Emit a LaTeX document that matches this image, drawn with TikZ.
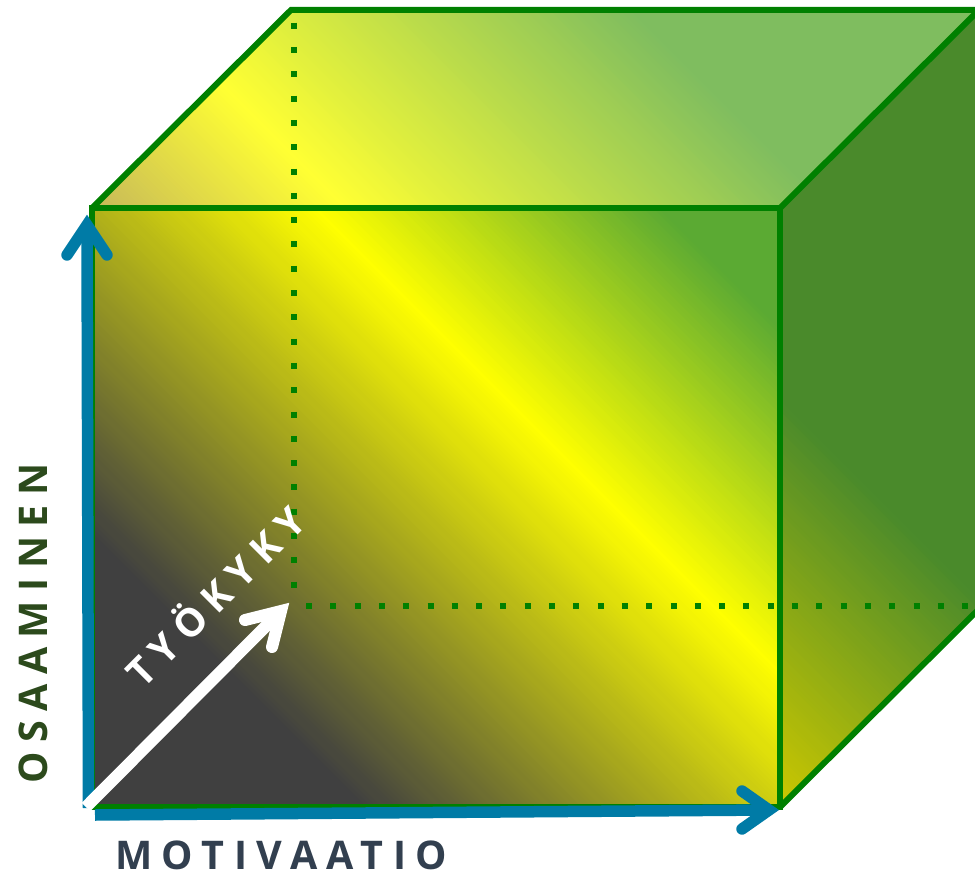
\documentclass[tikz,border=0pt]{standalone}
\usepackage{fontspec}
\setmainfont{Open Sans}
\newfontfamily\axisfont[LetterSpace=24]{Open Sans}
\newfontfamily\tkfont[LetterSpace=24]{Open Sans}
\definecolor{edgegreen}{RGB}{0,128,0}
\definecolor{axisblue}{RGB}{0,123,166}
\definecolor{fgray}{RGB}{64,64,64}
\definecolor{fyellow}{RGB}{255,255,0}
\definecolor{fgreen}{RGB}{91,170,51}
\definecolor{tcorner}{RGB}{198,184,90}
\definecolor{tyellow}{RGB}{255,255,51}
\definecolor{tgreen}{RGB}{127,189,95}
\definecolor{ryellow}{RGB}{204,200,0}
\definecolor{rgreen}{RGB}{74,138,43}
\definecolor{osaacol}{RGB}{44,74,28}
\definecolor{motivcol}{RGB}{50,63,79}
% diagonal colour band: s = x - y (pixel coordinates)
\newcommand\gband[5]{%
  \pgfmathsetmacro\gstep{(#2-#1)/#5}%
  \foreach \i in {1,...,#5}{%
    \pgfmathsetmacro\sa{#1+\gstep*(\i-1)}%
    \pgfmathsetmacro\sb{#1+\gstep*\i+1.0}%
    \pgfmathtruncatemacro\pc{100/#5*(\i-0.5)}%
    \fill[#4!\pc!#3] (\sa-1200,-1200) -- (\sa+1200,1200) -- (\sb+1200,1200) -- (\sb-1200,-1200) -- cycle;
  }}
\tikzset{
  cubeedge/.style={draw=edgegreen,line width=6pt,line join=miter},
  hidden/.style={draw=edgegreen,line width=6pt,dash pattern=on 6pt off 18.3pt},
  axisshaft/.style={draw=axisblue,line width=11.5pt},
  axishead/.style={draw=axisblue,line width=11.5pt,line cap=round,line join=miter,miter limit=10},
  whiteshaft/.style={draw=white,line width=12pt},
  whitehead/.style={draw=white,line width=12pt,line cap=round,line join=miter,miter limit=10},
  axislabel/.style={inner sep=0pt,font=\axisfont\bfseries\fontsize{39.5}{39.5}\selectfont},
}
\begin{document}
\begin{tikzpicture}[x=1pt,y=-1pt]
\useasboundingbox (0,0) rectangle (975,875);
\clip (0,0) rectangle (975,875);
% cube corners
\coordinate (ftl) at (92,208);
\coordinate (ftr) at (780,208);
\coordinate (fbr) at (780,807);
\coordinate (fbl) at (92,807);
\coordinate (btl) at (291,10);
\coordinate (btr) at (979,10);
\coordinate (bbr) at (979,609);
% front face
\begin{scope}
  \clip (ftl) -- (ftr) -- (fbr) -- (fbl) -- cycle;
  \gband{-800}{-445}{fgray}{fgray}{1}
  \gband{-445}{105}{fgray}{fyellow}{110}
  \gband{105}{450}{fyellow}{fgreen}{70}
  \gband{450}{700}{fgreen}{fgreen}{1}
\end{scope}
% top face
\begin{scope}
  \clip (ftl) -- (btl) -- (btr) -- (ftr) -- cycle;
  \gband{-200}{-116}{tcorner}{tcorner}{1}
  \gband{-116}{135}{tcorner}{tyellow}{50}
  \gband{135}{620}{tyellow}{tgreen}{97}
  \gband{620}{1100}{tgreen}{tgreen}{1}
\end{scope}
% right face
\begin{scope}
  \clip (ftr) -- (btr) -- (bbr) -- (fbr) -- cycle;
  \gband{-100}{-28}{ryellow}{ryellow}{1}
  \gband{-28}{380}{ryellow}{rgreen}{80}
  \gband{380}{1100}{rgreen}{rgreen}{1}
\end{scope}
% edges
\draw[cubeedge] (ftl) -- (ftr) -- (fbr) -- (fbl) -- cycle;
\draw[cubeedge] (ftl) -- (btl) -- (btr) -- (ftr);
\draw[cubeedge] (btr) -- (bbr) -- (fbr);
% hidden edges
\coordinate (hv0) at (293.7,22.7);
\coordinate (hv1) at (293.7,605.7);
\coordinate (hh0) at (306,605.7);
\coordinate (hh1) at (980,605.7);
\draw[hidden] (hv0) -- (hv1);
\draw[hidden] (hh0) -- (hh1);
% blue axes
\coordinate (vb) at (88.5,808);
\coordinate (vt) at (87,225);
\coordinate (va1) at (67,255);
\coordinate (va2) at (107,255);
\draw[axisshaft] (vb) -- (vt);
\draw[axishead] (va1) -- (vt) -- (va2);
\coordinate (hb) at (95,815);
\coordinate (ht) at (769,810);
\coordinate (ha1) at (742,791);
\coordinate (ha2) at (742,829);
\draw[axisshaft] (hb) -- (ht);
\draw[axishead] (ha1) -- (ht) -- (ha2);
% white arrow
\coordinate (wb) at (86,807);
\coordinate (wt) at (281,611);
\coordinate (wa1) at (245,620);
\coordinate (wa2) at (272,647);
\draw[whiteshaft] (wb) -- (wt);
\draw[whitehead] (wa1) -- (wt) -- (wa2);
% labels
\node[axislabel,text=osaacol,rotate=90,anchor=base west] (osaa) at (47,784) {OSAAMINEN};
\node[axislabel,text=motivcol,anchor=base west] (motiv) at (115,869) {MOTIVAATIO};
\node[inner sep=0pt,text=white,rotate=45,anchor=base,font=\tkfont\bfseries\fontsize{39}{39}\selectfont] (tyo) at (226,607) {TYÖKYKY};
\end{tikzpicture}
\end{document}
